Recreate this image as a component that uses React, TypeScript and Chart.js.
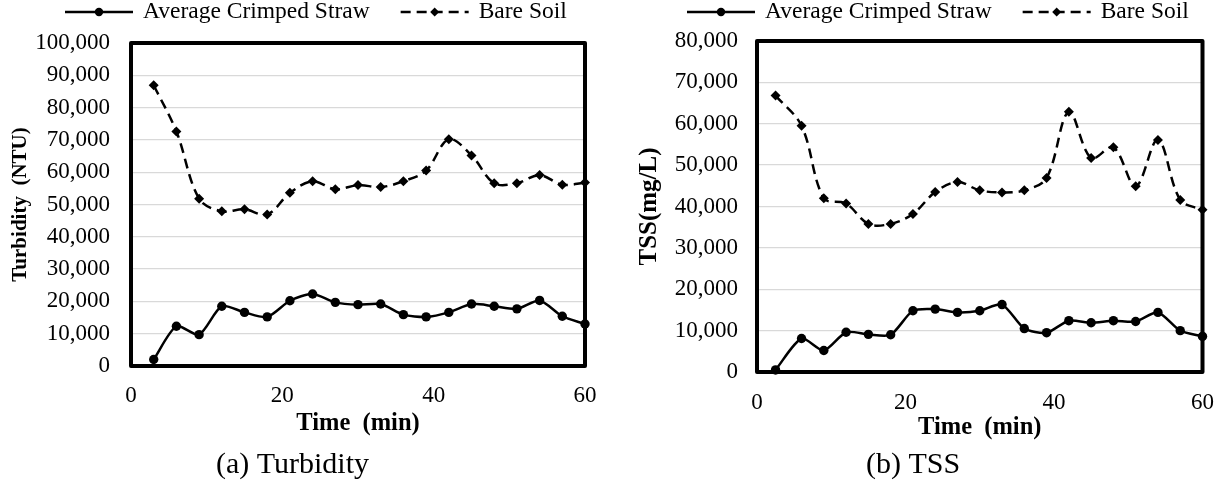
import React, { useEffect, useRef } from "react";
import { Chart, registerables } from "chart.js";

Chart.register(...registerables);

// ---------- data ----------
const timeTurbidity = [3, 6, 9, 12, 15, 18, 21, 24, 27, 30, 33, 36, 39, 42, 45, 48, 51, 54, 57, 60];
const turbidityCrimped = [2000, 12300, 9700, 18500, 16600, 15200, 20200, 22300, 19700, 19000, 19200, 15900, 15200, 16600, 19200, 18500, 17700, 20300, 15400, 13000];
const turbidityBare = [86900, 72600, 51800, 47900, 48500, 46900, 53600, 57200, 54700, 56000, 55400, 57200, 60500, 70200, 65200, 56600, 56600, 59100, 56100, 56800];

const timeTSS = [2.5, 6, 9, 12, 15, 18, 21, 24, 27, 30, 33, 36, 39, 42, 45, 48, 51, 54, 57, 60];
const tssCrimped = [500, 8100, 5200, 9600, 9100, 9000, 14800, 15200, 14400, 14800, 16300, 10500, 9500, 12400, 11900, 12400, 12200, 14400, 10000, 8600];
const tssBare = [66800, 59500, 42000, 40700, 35800, 35800, 38200, 43500, 45900, 43900, 43400, 43900, 46900, 62900, 51700, 54300, 44900, 56100, 41600, 39200];

const seriesLabels = ["Average Crimped Straw", "Bare Soil"];
const xTitle = "Time  (min)";
const yTitles = ["Turbidity  (NTU)", "TSS(mg/L)"];
const captions = ["(a) Turbidity", "(b) TSS"];
const xTicks = { min: 0, max: 60, step: 20 };
const turbidityAxis = { min: 0, max: 100000, step: 10000 };
const tssAxis = { min: 0, max: 80000, step: 10000 };

const FONT = "'Liberation Serif', 'Times New Roman', Times, serif";

// ---------- plugins ----------
function drawMarker(ctx: CanvasRenderingContext2D, style: string, x: number, y: number, r: number) {
  ctx.beginPath();
  if (style === "rectRot") {
    ctx.moveTo(x, y - r);
    ctx.lineTo(x + r, y);
    ctx.lineTo(x, y + r);
    ctx.lineTo(x - r, y);
    ctx.closePath();
  } else {
    ctx.arc(x, y, r, 0, Math.PI * 2);
  }
  ctx.fill();
}

const lineLegend = {
  id: "lineLegend",
  afterDraw(chart: any, _args: any, opts: any) {
    const ctx: CanvasRenderingContext2D = chart.ctx;
    ctx.save();
    ctx.font = `${opts.fontSize}px ${FONT}`;
    ctx.textBaseline = "middle";
    ctx.textAlign = "left";
    let x = opts.x;
    const y = opts.y;
    chart.data.datasets.forEach((ds: any) => {
      ctx.strokeStyle = ds.borderColor;
      ctx.fillStyle = ds.borderColor;
      ctx.lineWidth = ds.borderWidth;
      ctx.setLineDash(ds.borderDash || []);
      ctx.beginPath();
      ctx.moveTo(x, y);
      ctx.lineTo(x + opts.sample, y);
      ctx.stroke();
      ctx.setLineDash([]);
      drawMarker(ctx, ds.pointStyle, x + opts.sample / 2, y, ds.pointRadius - 0.5);
      ctx.fillStyle = "#000";
      ctx.fillText(ds.label, x + opts.sample + opts.gap, y);
      x += opts.sample + opts.gap + ctx.measureText(ds.label).width + opts.itemGap;
    });
    ctx.restore();
  },
};

const plotFrame = {
  id: "plotFrame",
  beforeDatasetsDraw(chart: any) {
    const { ctx, chartArea } = chart;
    ctx.save();
    ctx.strokeStyle = "#000";
    ctx.lineWidth = 4;
    ctx.lineJoin = "round";
    ctx.strokeRect(chartArea.left, chartArea.top, chartArea.right - chartArea.left, chartArea.bottom - chartArea.top);
    ctx.restore();
  },
};

// ---------- panel ----------
type PanelProps = {
  left: number;
  width: number;
  times: number[];
  crimped: number[];
  bare: number[];
  axis: { min: number; max: number; step: number };
  yTitle: string;
  yTitleSize: number;
  yTitlePad: number;
  yWidth: number;
  yTickPad: number;
  xTickPad: number;
  xHeight: number;
  caption: string;
  captionPadTop: number;
  padTop: number;
  padRight: number;
  legendX: number;
};

function Panel(p: PanelProps) {
  const ref = useRef<HTMLCanvasElement | null>(null);
  useEffect(() => {
    if (!ref.current) return;
    const chart = new Chart(ref.current, {
      type: "line",
      data: {
        datasets: [
          {
            label: seriesLabels[0],
            data: p.times.map((t, i) => ({ x: t, y: p.crimped[i] })),
            borderColor: "#000",
            backgroundColor: "#000",
            pointBackgroundColor: "#000",
            pointBorderColor: "#000",
            borderWidth: 2.5,
            pointStyle: "circle",
            pointRadius: 4.7,
            pointBorderWidth: 0,
            tension: 0.25,
            clip: false,
          } as any,
          {
            label: seriesLabels[1],
            data: p.times.map((t, i) => ({ x: t, y: p.bare[i] })),
            borderColor: "#000",
            backgroundColor: "#000",
            pointBackgroundColor: "#000",
            pointBorderColor: "#000",
            borderWidth: 2.5,
            borderDash: [10, 6],
            pointStyle: "rectRot",
            pointRadius: 5,
            pointBorderWidth: 0,
            tension: 0.35,
            clip: false,
          } as any,
        ],
      },
      options: {
        animation: false,
        responsive: false,
        maintainAspectRatio: false,
        layout: { padding: { top: p.padTop, right: p.padRight, left: 0, bottom: 0 } },
        plugins: {
          legend: { display: false },
          tooltip: { enabled: false },
          title: {
            display: true,
            position: "bottom",
            text: p.caption,
            color: "#000",
            font: { family: FONT, size: 30, weight: "normal", lineHeight: 1 },
            padding: { top: p.captionPadTop, bottom: 2 },
          },
          lineLegend: { x: p.legendX, y: 12, fontSize: 23.5, sample: 68, gap: 10, itemGap: 31 },
        } as any,
        scales: {
          x: {
            type: "linear",
            min: xTicks.min,
            max: xTicks.max,
            ticks: { stepSize: xTicks.step, padding: p.xTickPad, color: "#000", font: { family: FONT, size: 23 } },
            grid: { display: false, drawTicks: false },
            border: { display: false },
            title: {
              display: true,
              text: xTitle,
              color: "#000",
              font: { family: FONT, size: 24.5, weight: "bold", lineHeight: 1 },
              padding: { top: 0, bottom: 0 },
            },
            afterFit: (scale: any) => {
              scale.height = p.xHeight;
            },
          },
          y: {
            type: "linear",
            min: p.axis.min,
            max: p.axis.max,
            ticks: {
              stepSize: p.axis.step,
              padding: p.yTickPad,
              color: "#000",
              font: { family: FONT, size: 23 },
              callback: (v: any) => Number(v).toLocaleString("en-US"),
            },
            grid: { color: "#d9d9d9", lineWidth: 1.3, drawTicks: false },
            border: { display: false },
            title: {
              display: true,
              text: p.yTitle,
              color: "#000",
              font: { family: FONT, size: p.yTitleSize, weight: "bold", lineHeight: 1 },
              padding: { top: p.yTitlePad, bottom: 0 },
            },
            afterFit: (scale: any) => {
              scale.width = p.yWidth;
            },
          },
        },
      } as any,
      plugins: [lineLegend as any, plotFrame as any],
    });
    return () => chart.destroy();
  }, []);
  return (
    <div style={{ position: "absolute", left: p.left, top: 0, width: p.width, height: 482 }}>
      <canvas ref={ref} width={p.width} height={482} style={{ display: "block" }} />
    </div>
  );
}

export default function App() {
  return (
    <div style={{ position: "absolute", left: 0, top: 0, width: 1231, height: 482, background: "#fff" }}>
      <Panel
        left={0}
        width={615}
        times={timeTurbidity}
        crimped={turbidityCrimped}
        bare={turbidityBare}
        axis={turbidityAxis}
        yTitle={yTitles[0]}
        yTitleSize={21}
        yTitlePad={10.5}
        yWidth={131}
        yTickPad={21}
        xTickPad={16}
        xHeight={70}
        caption={captions[0]}
        captionPadTop={14}
        padTop={43}
        padRight={30}
        legendX={65}
      />
      <Panel
        left={615}
        width={616}
        times={timeTSS}
        crimped={tssCrimped}
        bare={tssBare}
        axis={tssAxis}
        yTitle={yTitles[1]}
        yTitleSize={25}
        yTitlePad={22.5}
        yWidth={142}
        yTickPad={19}
        xTickPad={17}
        xHeight={68}
        caption={captions[1]}
        captionPadTop={10}
        padTop={41}
        padRight={20}
        legendX={72}
      />
    </div>
  );
}
